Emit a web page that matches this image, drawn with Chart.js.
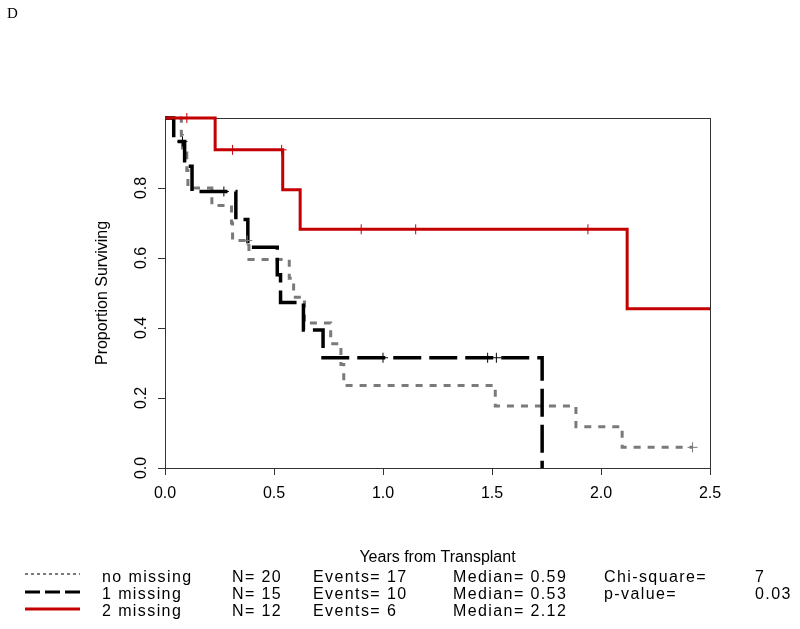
<!DOCTYPE html>
<html>
<head>
<meta charset="utf-8">
<script src="https://cdn.jsdelivr.net/npm/chart.js@4.4.1/dist/chart.umd.min.js"></script>
<style>
  body { margin: 0; background: #fff; }
  #wrap { position: relative; width: 800px; height: 629px; overflow: hidden; }
  #chart { position: absolute; left: 0; top: 0; }
  #panel { position: absolute; left: 7px; top: 5px; font-family: "Liberation Serif", "Times New Roman", serif; font-size: 15px; color: #000; }
  #legendLines { position: absolute; left: 0; top: 560px; }
  .leg { position: absolute; font-family: "Liberation Sans", Arial, sans-serif; font-size: 16px; line-height: 16px; letter-spacing: 1.4px; white-space: nowrap; color: #000; }
</style>
</head>
<body>
<div id="wrap">
  <canvas id="chart" width="800" height="629"></canvas>
  <div id="panel">D</div>
  <svg id="legendLines" width="100" height="69"></svg>
  <div id="legend"></div>
</div>
<script>
//group names + legend stats
let groupNames = ['no missing', '1 missing', '2 missing']
let groupN = ['N= 20', 'N= 15', 'N= 12']
let groupEvents = ['Events= 17', 'Events= 10', 'Events= 6']
let groupMedian = ['Median= 0.59', 'Median= 0.53', 'Median= 2.12']
let testLabels = ['Chi-square=', 'p-value=']
let testValues = ['7', '0.03']

//kaplan-meier steps (value after each drop)
let noMissingTimes = [0, 0.075, 0.08, 0.1, 0.105, 0.215, 0.305, 0.31, 0.385, 0.57, 0.59, 0.64, 0.76, 0.807, 0.82, 1.515, 1.885, 2.097, 2.42]
let noMissingSurv = [1, 0.95, 0.9, 0.85, 0.8, 0.75, 0.7, 0.65, 0.596, 0.542, 0.488, 0.414, 0.355, 0.296, 0.236, 0.177, 0.118, 0.059, 0.059]
let noMissingCensorTimes = [0.377, 2.42]
let noMissingCensorSurv = [0.65, 0.059]

let oneMissingTimes = [0, 0.04, 0.09, 0.124, 0.325, 0.38, 0.515, 0.53, 0.635, 0.725, 1.73]
let oneMissingSurv = [1, 0.933, 0.862, 0.79, 0.71, 0.631, 0.552, 0.473, 0.394, 0.315, 0]
let oneMissingCensorTimes = [0.08, 0.27, 1.0, 1.48, 1.52]
let oneMissingCensorSurv = [0.933, 0.79, 0.315, 0.315, 0.315]

let twoMissingTimes = [0, 0.23, 0.54, 0.62, 2.12, 2.5]
let twoMissingSurv = [1, 0.909, 0.795, 0.682, 0.455, 0.455]
let twoMissingCensorTimes = [0.1, 0.31, 0.535, 0.9, 1.15, 1.94]
let twoMissingCensorSurv = [1, 0.909, 0.909, 0.682, 0.682, 0.682]

//axis ticks
let xTickValues = [0, 0.5, 1, 1.5, 2, 2.5]
let yTickValues = [0, 0.2, 0.4, 0.6, 0.8]
let yTickLabels = ['0.0', '0.2', '0.4', '0.6', '0.8']

let grayCol = '#7a7a7a'
let blackCol = '#000000'
let redCol = '#c40000'

function toPoints(xs, ys){
    return xs.map((x, i) => ({x: x, y: ys[i]}))
}

function stepSet(xs, ys, color, width, dash){
    return {
        type: 'line',
        data: toPoints(xs, ys),
        borderColor: color,
        borderWidth: width,
        borderDash: dash,
        stepped: 'before',
        pointRadius: 0,
        fill: false,
        clip: 5
    }
}

function censorSet(xs, ys, color){
    return {
        type: 'scatter',
        data: toPoints(xs, ys),
        borderColor: color,
        backgroundColor: color,
        pointStyle: 'cross',
        pointRadius: 5,
        borderWidth: 1,
        showLine: false,
        clip: 8
    }
}

//frame round the plot, drawn under the curves
const framePlugin = {
    id: 'framePlugin',
    beforeDatasetsDraw(chart){
        let {ctx, chartArea} = chart
        ctx.save()
        ctx.strokeStyle = '#333'
        ctx.lineWidth = 1
        ctx.strokeRect(chartArea.left + 0.5, chartArea.top + 0.5, chartArea.right - chartArea.left, chartArea.bottom - chartArea.top)
        ctx.restore()
    },
    //R style y labels, turned parallel to the axis
    afterDraw(chart){
        let {ctx} = chart
        let yScale = chart.scales.y
        ctx.save()
        ctx.font = '16px "Liberation Sans", Arial, sans-serif'
        ctx.fillStyle = '#000'
        ctx.textAlign = 'center'
        ctx.textBaseline = 'middle'
        yTickValues.forEach((v, i) => {
            ctx.save()
            ctx.translate(142, yScale.getPixelForValue(v))
            ctx.rotate(-Math.PI / 2)
            ctx.fillText(yTickLabels[i], 0, 0)
            ctx.restore()
        })
        ctx.restore()
    }
}

let chart = document.querySelector('#chart').getContext('2d')

new Chart(chart, {
    data: {
        datasets: [
            censorSet(twoMissingCensorTimes, twoMissingCensorSurv, redCol),
            censorSet(oneMissingCensorTimes, oneMissingCensorSurv, blackCol),
            censorSet(noMissingCensorTimes, noMissingCensorSurv, grayCol),
            stepSet(twoMissingTimes, twoMissingSurv, redCol, 3, []),
            stepSet(oneMissingTimes, oneMissingSurv, blackCol, 3.5, [28, 8]),
            stepSet(noMissingTimes, noMissingSurv, grayCol, 3, [7, 7])
        ]
    },
    options: {
        responsive: false,
        animation: false,
        layout: { padding: { left: 0, top: 118, right: 90, bottom: 0 } },
        plugins: { legend: { display: false }, tooltip: { enabled: false } },
        scales: {
            x: {
                type: 'linear',
                min: 0,
                max: 2.5,
                afterBuildTicks: scale => { scale.ticks = xTickValues.map(v => ({value: v})) },
                afterFit: scale => { scale.height = 161 },
                ticks: {
                    callback: v => v.toFixed(1),
                    color: '#000',
                    padding: 9,
                    maxRotation: 0,
                    font: { family: '"Liberation Sans", Arial, sans-serif', size: 16 }
                },
                grid: { drawOnChartArea: false, tickLength: 7, color: '#333' },
                border: { display: true, color: '#333' },
                title: {
                    display: true,
                    text: 'Years from Transplant',
                    color: '#000',
                    padding: { bottom: 62 },
                    font: { family: '"Liberation Sans", Arial, sans-serif', size: 16 }
                }
            },
            y: {
                type: 'linear',
                min: 0,
                max: 1,
                afterBuildTicks: scale => { scale.ticks = yTickValues.map(v => ({value: v})) },
                afterFit: scale => { scale.width = 165 },
                ticks: { display: false },
                grid: { drawOnChartArea: false, tickLength: 7, color: '#333' },
                border: { display: true, color: '#333' },
                title: {
                    display: true,
                    text: 'Proportion Surviving',
                    color: '#000',
                    padding: { top: 93 },
                    font: { family: '"Liberation Sans", Arial, sans-serif', size: 16 }
                }
            }
        }
    },
    plugins: [framePlugin]
})

//legend below the plot
let legend = document.querySelector('#legend')
let rowY = [577, 594, 611]
let colX = [102, 232, 313, 453]

function addText(text, x, y){
    let el = document.createElement('div')
    el.className = 'leg'
    el.textContent = text
    el.style.left = x + 'px'
    el.style.top = (y - 8) + 'px'
    legend.append(el)
}

groupNames.forEach((name, i) => {
    addText(name, colX[0], rowY[i])
    addText(groupN[i], colX[1], rowY[i])
    addText(groupEvents[i], colX[2], rowY[i])
    addText(groupMedian[i], colX[3], rowY[i])
})
testLabels.forEach((label, i) => {
    addText(label, 604, rowY[i])
    addText(testValues[i], 755, rowY[i])
})

//line samples
let svg = document.querySelector('#legendLines')
let sampleY = [14, 32, 49]
let sampleStyle = [
    {color: grayCol, width: 2, dash: '3 3'},
    {color: blackCol, width: 3, dash: '15 5'},
    {color: redCol, width: 3, dash: ''}
]
sampleStyle.forEach((s, i) => {
    let line = document.createElementNS('http://www.w3.org/2000/svg', 'line')
    line.setAttribute('x1', 25)
    line.setAttribute('x2', 80)
    line.setAttribute('y1', sampleY[i])
    line.setAttribute('y2', sampleY[i])
    line.setAttribute('stroke', s.color)
    line.setAttribute('stroke-width', s.width)
    if(s.dash){ line.setAttribute('stroke-dasharray', s.dash) }
    svg.append(line)
})
</script>
</body>
</html>
